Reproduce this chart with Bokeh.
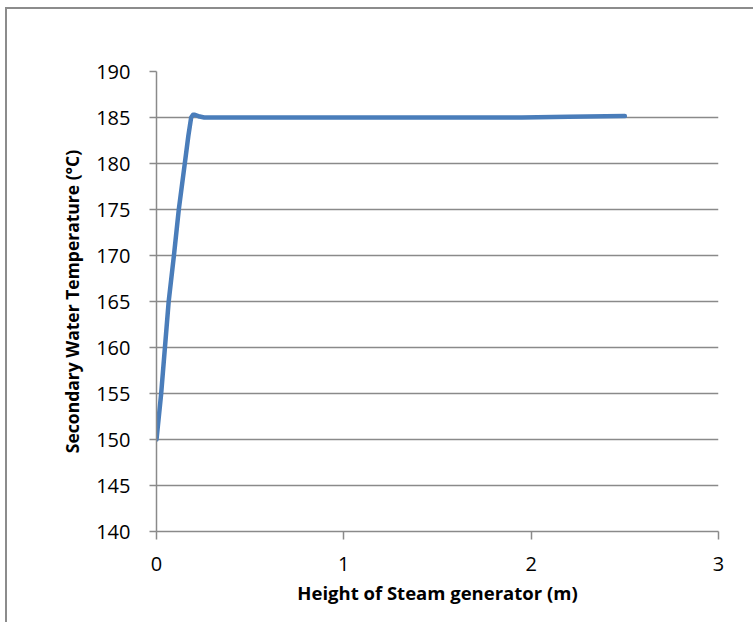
from bokeh.plotting import figure
from bokeh.models import FixedTicker, Range1d
from bokeh.embed import file_html
from bokeh.resources import INLINE

# Data
height_m = [0.0, 0.025, 0.045, 0.065, 0.093, 0.119, 0.151, 0.170, 0.185,
            0.195, 0.205, 0.230, 0.255, 0.5, 1.0, 1.5, 1.95, 2.2, 2.5]
temp_c = [150.0, 155.0, 160.0, 165.0, 170.0, 175.0, 180.0, 183.0, 185.0,
          185.3, 185.3, 185.1, 185.0, 185.0, 185.0, 185.0, 185.0, 185.07, 185.15]

x_ticks = [0, 1, 2, 3]
y_ticks = [140, 145, 150, 155, 160, 165, 170, 175, 180, 185, 190]

x_title = "Height of Steam generator (m)"
y_title = "Secondary Water Temperature (\u00b0C)"

GRID = "#8a8a8a"
TICK_FONT = "Open Sans"
TITLE_FONT = "Open Sans"

p = figure(width=746, height=613, output_backend="svg", toolbar_location=None,
           x_range=Range1d(0, 3), y_range=Range1d(140, 190),
           min_border_left=149, min_border_right=35,
           min_border_top=62, min_border_bottom=91)
p.frame_width = 562
p.frame_height = 460
p.margin = (7, 0, 0, 5)
p.styles = {"border-left": "2px solid #8c8c8c", "border-top": "2px solid #8c8c8c"}

p.background_fill_color = "white"
p.border_fill_color = "white"
p.outline_line_color = None

p.line(height_m, temp_c, line_color="#4a7dba", line_width=4.5,
       line_cap="round", line_join="round")

p.xgrid.grid_line_color = None
p.ygrid.grid_line_color = GRID
p.ygrid.grid_line_width = 1.5
p.ygrid.ticker = FixedTicker(ticks=y_ticks)

p.xaxis.ticker = FixedTicker(ticks=x_ticks)
p.yaxis.ticker = FixedTicker(ticks=y_ticks)

for ax in (p.xaxis[0], p.yaxis[0]):
    ax.axis_line_color = GRID
    ax.axis_line_width = 1.5
    ax.major_tick_line_color = GRID
    ax.major_tick_line_width = 1.5
    ax.major_tick_in = 0
    ax.minor_tick_line_color = None
    ax.major_label_text_font = TICK_FONT
    ax.major_label_text_font_size = "20px"
    ax.major_label_text_color = "black"
    ax.axis_label_text_font = TITLE_FONT
    ax.axis_label_text_font_style = "bold"
    ax.axis_label_text_color = "black"

p.xaxis.major_tick_out = 8
p.xaxis.major_label_standoff = 17
p.xaxis.axis_label = x_title
p.xaxis.axis_label_text_font_size = "18.5px"
p.xaxis.axis_label_standoff = 6

p.yaxis.major_tick_out = 7
p.yaxis.major_label_standoff = 19
p.yaxis.axis_label = y_title
p.yaxis.axis_label_text_font_size = "17.5px"
p.yaxis.axis_label_standoff = 9

open("out.html", "w").write(file_html(p, INLINE))
